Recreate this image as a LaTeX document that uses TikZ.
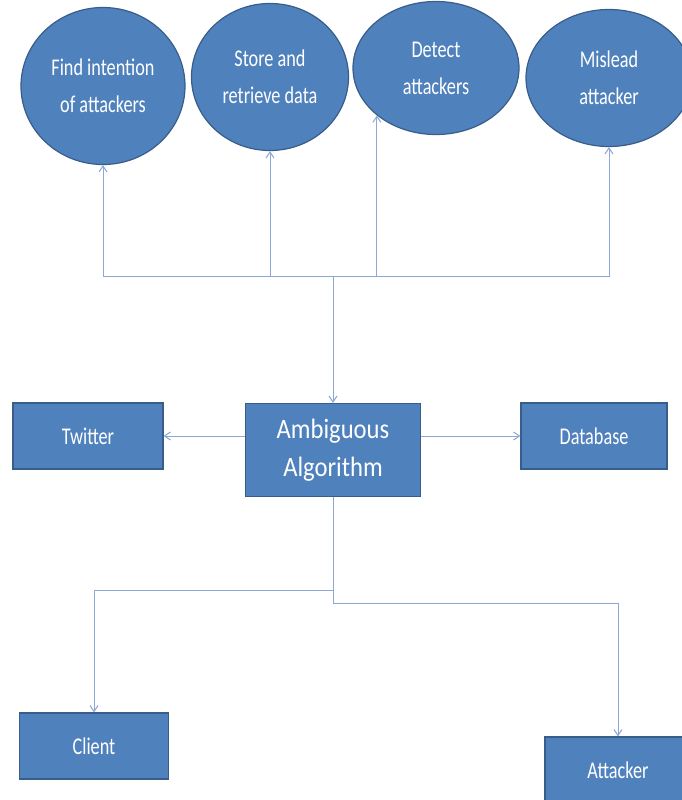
\documentclass[tikz,border=0pt]{standalone}
\usepackage{fontspec}
\setmainfont{Carlito}[FakeStretch=0.76]
\newfontfamily\algfont{Carlito}[FakeStretch=0.88]
\usetikzlibrary{shapes.geometric,arrows.meta}
\definecolor{boxblue}{RGB}{79,129,189}
\definecolor{boxedge}{RGB}{56,93,138}
\definecolor{linkblue}{RGB}{140,168,214}

\begin{document}
\begin{tikzpicture}[x=1pt,y=-1pt,
	task/.style={ellipse,draw=boxedge,line width=1.2pt,fill=boxblue,text=white,align=center,inner sep=0pt,font=\fontsize{24}{37}\selectfont},
	unit/.style={rectangle,draw=boxedge,line width=1.2pt,fill=boxblue,text=white,align=center,inner sep=0pt,minimum width=150pt,minimum height=66pt,font=\fontsize{24}{29}\selectfont},
	link/.style={draw=linkblue,line width=1pt},
	>={Straight Barb[length=6pt,width=8pt]}]
				\useasboundingbox (0,0) rectangle (682,800);
				\clip (0,0) rectangle (682,800);
				
				% top row: what the algorithm does
				\node[task,minimum width=164pt,minimum height=157pt] (find) at (103,86) {Find intention\\of attackers};
				\node[task,minimum width=157pt,minimum height=147pt] (store) at (270,77) {Store and\\retrieve data};
				\node[task,minimum width=166pt,minimum height=133pt] (detect) at (436,68) {Detect\\attackers};
				\node[task,minimum width=166pt,minimum height=137pt] (mislead) at (609,78) {Mislead\\attacker};
				
				% middle row
				\node[unit,minimum width=175pt,minimum height=93pt,font=\algfont\fontsize{28}{38}\selectfont] (amb) at (333,450) {Ambiguous\\Algorithm};
				\node[unit] (twitter) at (88,436) {Twitter};
				\node[unit,minimum width=146pt] (db) at (594,436) {Database};
				
				% bottom row
				\node[unit,minimum width=149pt] (client) at (94,746) {Client};
				\node[unit,minimum width=146pt] (attacker) at (618,770) {Attacker};
				
				\coordinate (top) at (333,276);
				\coordinate (lowL) at (333,590);
				\coordinate (lowR) at (333,603);
				
				\draw[link,->] (top) -- (amb.north);
				\foreach \t in {find,store,mislead}{
					\draw[link,->] (top) -| (\t);
				}
				\draw[link,->] (top) -| (detect.south west);
				
				\draw[link,->] (amb.west |- twitter) -- (twitter.east);
				\draw[link,->] (amb.east |- db) -- (db.west);
				
				\draw[link] (amb.south) -- (lowR);
				\draw[link,->] (lowL) -| (client);
				\draw[link,->] (lowR) -| (attacker);
			\end{tikzpicture}
\end{document}
